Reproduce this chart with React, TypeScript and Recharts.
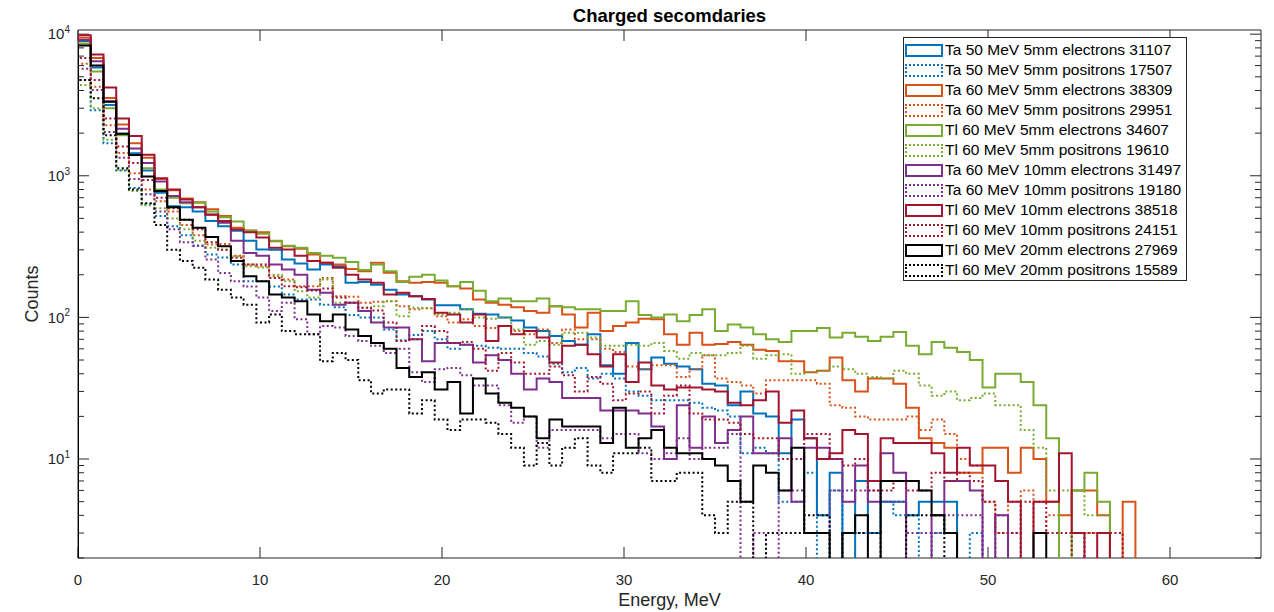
import React from 'react';
import { ComposedChart, Line, XAxis, YAxis, ReferenceLine, ReferenceArea, Legend } from 'recharts';

// Histogram counts per 0.7 MeV bin (bin i covers [0.7*i, 0.7*(i+1)] MeV); 0 = empty bin
const BIN_WIDTH = 0.7;

const ta50_5mm_el = [8930, 5810, 3160, 1980, 1440, 1090, 760, 610, 600, 560, 480, 440, 409, 348, 301, 300, 256, 240, 218, 236, 230, 176, 178, 170, 157, 145, 141, 134, 122, 122, 114, 106, 105, 100, 95, 85, 80, 74, 68, 64, 76, 46, 40, 66, 43, 52, 47, 45, 43, 34, 33, 24, 30, 21, 20, 11, 19, 14, 4, 8, 0, 7, 3, 5, 5, 4, 5, 5, 5];
const ta50_5mm_pos = [4740, 2900, 1700, 1090, 820, 630, 520, 440, 380, 320, 278, 265, 236, 180, 180, 165, 145, 134, 134, 123, 118, 104, 100, 100, 82, 69, 75, 80, 70, 60, 64, 63, 61, 60, 60, 56, 53, 47, 41, 44, 37, 40, 37, 30, 28, 26, 26, 26, 25, 23, 22, 20, 11, 12, 11, 5, 5, 8, 0, 6, 3, 3, 3, 5, 4, 4, 0, 3, 3, 0, 3];
const ta60_5mm_el = [9420, 6790, 3540, 2300, 1700, 1340, 950, 790, 690, 650, 580, 520, 430, 410, 400, 345, 318, 305, 278, 243, 236, 220, 212, 243, 207, 180, 176, 178, 176, 166, 160, 134, 127, 123, 118, 111, 108, 120, 105, 85, 108, 80, 87, 92, 98, 97, 76, 64, 78, 64, 65, 67, 64, 59, 58, 49, 49, 41, 42, 52, 36, 30, 37, 37, 34, 23, 14, 13, 12, 8, 8, 12, 12, 8, 12, 10, 5, 4, 6, 6, 4, 0, 5];
const ta60_5mm_pos = [6170, 4250, 2270, 1450, 1040, 800, 660, 560, 450, 380, 327, 330, 272, 236, 230, 195, 185, 166, 166, 190, 141, 140, 127, 129, 130, 120, 114, 116, 102, 92, 97, 87, 84, 87, 80, 76, 82, 66, 82, 70, 70, 60, 57, 45, 43, 46, 46, 38, 43, 54, 37, 35, 33, 29, 36, 36, 36, 36, 34, 24, 23, 20, 19, 19, 19, 20, 16, 19, 15, 10, 9, 5, 3, 5, 6, 3, 4, 0, 3, 3, 3];
const tl60_5mm_el = [8600, 5440, 3000, 1930, 1400, 1130, 800, 700, 640, 646, 560, 510, 475, 409, 390, 348, 321, 310, 285, 273, 264, 246, 216, 236, 212, 178, 194, 200, 182, 166, 178, 154, 130, 136, 130, 130, 136, 120, 118, 114, 114, 111, 111, 130, 104, 100, 105, 94, 104, 114, 80, 89, 85, 76, 70, 67, 80, 80, 84, 72, 78, 73, 68, 73, 79, 63, 55, 67, 61, 57, 50, 32, 40, 40, 35, 24, 14, 0, 6, 8, 5];
const tl60_5mm_pos = [4370, 3000, 1800, 1100, 780, 620, 590, 500, 420, 348, 310, 300, 270, 230, 225, 200, 180, 153, 138, 185, 127, 127, 117, 120, 130, 102, 117, 116, 105, 108, 114, 100, 98, 100, 82, 64, 68, 64, 78, 78, 72, 63, 63, 64, 63, 66, 58, 51, 56, 54, 54, 56, 63, 51, 54, 55, 40, 41, 42, 45, 43, 40, 38, 37, 42, 40, 33, 28, 30, 26, 27, 29, 24, 24, 16, 12, 6, 6, 6, 4, 4];
const ta60_10mm_el = [9080, 6430, 3360, 2150, 1560, 1230, 910, 720, 650, 600, 533, 465, 348, 285, 272, 236, 218, 200, 157, 149, 123, 127, 111, 92, 85, 85, 70, 49, 66, 66, 64, 48, 54, 50, 40, 31, 37, 35, 27, 27, 27, 22, 22, 22, 21, 17, 10, 24, 12, 20, 13, 16, 20, 11, 11, 14, 5, 12, 12, 10, 5, 9, 5, 11, 8, 0, 0, 4, 7, 7, 6, 0, 4];
const ta60_10mm_pos = [5700, 4030, 2040, 1340, 950, 740, 560, 420, 340, 320, 256, 206, 180, 165, 138, 111, 127, 97, 76, 87, 85, 74, 68, 63, 56, 60, 41, 35, 43, 44, 39, 33, 33, 24, 18, 20, 12, 16, 16, 16, 16, 14, 15, 15, 11, 10, 11, 14, 10, 12, 12, 15, 0, 3, 0, 6, 6, 3, 3, 6, 6, 6, 6, 5, 5, 3, 3, 3, 4, 4, 4, 0, 4, 3];
const tl60_10mm_el = [9840, 7190, 4200, 2540, 1910, 1410, 960, 800, 680, 600, 530, 480, 417, 400, 366, 310, 301, 273, 250, 243, 224, 200, 185, 176, 145, 149, 141, 135, 108, 105, 92, 105, 68, 87, 76, 80, 72, 48, 63, 64, 55, 45, 55, 35, 48, 33, 31, 32, 32, 31, 30, 25, 24, 26, 30, 18, 22, 14, 10, 11, 16, 15, 7, 14, 13, 13, 13, 11, 8, 12, 9, 9, 7, 5, 0, 5, 5, 11, 3, 0, 3];
const tl60_10mm_pos = [6790, 4740, 2540, 1610, 1230, 935, 700, 590, 490, 420, 340, 300, 264, 236, 236, 190, 166, 163, 155, 160, 138, 127, 117, 112, 92, 68, 70, 87, 80, 66, 67, 60, 42, 56, 48, 40, 40, 45, 39, 30, 38, 34, 26, 29, 30, 21, 28, 33, 21, 19, 19, 18, 15, 14, 14, 10, 10, 15, 15, 10, 9, 10, 6, 6, 7, 6, 6, 8, 7, 8, 7, 5, 3, 3, 5, 5, 3, 3, 0, 3, 3, 3];
const tl60_20mm_el = [8330, 6010, 3330, 1980, 1400, 990, 780, 600, 490, 430, 370, 318, 250, 195, 180, 145, 138, 130, 105, 94, 105, 82, 74, 66, 60, 44, 38, 41, 31, 35, 21, 37, 29, 25, 23, 20, 14, 19, 17, 17, 17, 13, 23, 12, 14, 16, 12, 11, 11, 10, 9, 7, 5, 9, 8, 6, 12, 3, 3, 0, 3, 4, 0, 7, 7, 7, 6, 4, 3, 0, 0, 0, 0, 0, 0, 3];
const tl60_20mm_pos = [4740, 3530, 1930, 1130, 800, 640, 450, 300, 250, 224, 185, 157, 138, 123, 92, 105, 80, 76, 76, 49, 56, 50, 36, 29, 31, 31, 21, 26, 19, 16, 19, 19, 18, 15, 12, 9, 13, 9, 12, 14, 9, 8, 11, 11, 12, 7, 7, 8, 8, 4, 3, 5, 5, 0, 3, 3, 3, 4, 4, 0, 3, 3, 3, 0, 0, 4, 4, 4];

const SERIES_NAMES = [
  'Ta 50 MeV 5mm electrons 31107',
  'Ta 50 MeV 5mm positrons 17507',
  'Ta 60 MeV 5mm electrons 38309',
  'Ta 60 MeV 5mm positrons 29951',
  'Tl 60 MeV 5mm electrons 34607',
  'Tl 60 MeV 5mm positrons 19610',
  'Ta 60 MeV 10mm electrons 31497',
  'Ta 60 MeV 10mm positrons 19180',
  'Tl 60 MeV 10mm electrons 38518',
  'Tl 60 MeV 10mm positrons 24151',
  'Tl 60 MeV 20mm electrons 27969',
  'Tl 60 MeV 20mm positrons 15589',
];
const SERIES_COUNTS = [
  ta50_5mm_el, ta50_5mm_pos, ta60_5mm_el, ta60_5mm_pos, tl60_5mm_el, tl60_5mm_pos,
  ta60_10mm_el, ta60_10mm_pos, tl60_10mm_el, tl60_10mm_pos, tl60_20mm_el, tl60_20mm_pos,
];
const SERIES_COLORS = ['#0072BD', '#0072BD', '#D95319', '#D95319', '#77AC30', '#77AC30', '#7E2F8E', '#7E2F8E', '#A2142F', '#A2142F', '#000000', '#000000'];
const SERIES_DOTTED = [false, true, false, true, false, true, false, true, false, true, false, true];

const X_TICKS = [0, 10, 20, 30, 40, 50, 60];
const Y_TICKS = [10, 100, 1000, 10000];
const Y_MINOR = [2, 3, 4, 5, 6, 7, 8, 9, 20, 30, 40, 50, 60, 70, 80, 90, 200, 300, 400, 500, 600, 700, 800, 900, 2000, 3000, 4000, 5000, 6000, 7000, 8000, 9000];

// layout
const W = 1266;
const H = 604;
const X_MIN = 0;
const X_MAX = 65;
const Y_MIN = 2;
const Y_MAX = 10700;
const PLOT_W = 1183;
const PLOT_H = 528;
const PX_PER_MEV = PLOT_W / (X_MAX - X_MIN);
const PX_PER_DEC = PLOT_H / Math.log10(Y_MAX / Y_MIN);
const FLOOR = 1; // below the axis bottom: empty bins drop out of view
const FONT = '"Liberation Sans", Arial, Helvetica, sans-serif';
const AXIS_COLOR = '#262626';

function stairs(counts: number[]) {
  const pts: { x: number; y: number }[] = [{ x: 0, y: FLOOR }];
  counts.forEach((c, i) => pts.push({ x: +(i * BIN_WIDTH).toFixed(3), y: c > 0 ? c : FLOOR }));
  const end = +(counts.length * BIN_WIDTH).toFixed(3);
  const last = counts[counts.length - 1];
  pts.push({ x: end, y: last > 0 ? last : FLOOR });
  pts.push({ x: end, y: FLOOR });
  return pts;
}

const STAIRS = SERIES_COUNTS.map(stairs);

const MAJOR_PX = 11;
const MINOR_PX = 6;
const xTickLen = (px: number) => px / PX_PER_MEV;
const yFactor = (px: number) => Math.pow(10, px / PX_PER_DEC);

const YTick = (props: any) => {
  const { x, y, payload } = props;
  const exp = Math.round(Math.log10(payload.value));
  return (
    <text x={x} y={y} textAnchor="end" fill={AXIS_COLOR} fontSize={15} fontFamily={FONT}>
      <tspan dy="0.35em">10</tspan>
      <tspan dy="-0.65em" fontSize={10}>{exp}</tspan>
    </text>
  );
};

const LegendBox = () => (
  <div
    style={{
      width: 284,
      height: 244,
      boxSizing: 'border-box',
      border: '1px solid #262626',
      background: '#ffffff',
      paddingTop: 2,
      fontFamily: FONT,
    }}
  >
    {SERIES_NAMES.map((name, i) => (
      <div key={name} style={{ display: 'flex', alignItems: 'center', height: 20 }}>
        <div
          style={{
            marginLeft: 1,
            width: 38,
            height: 13,
            boxSizing: 'border-box',
            border: `2px ${SERIES_DOTTED[i] ? 'dotted' : 'solid'} ${SERIES_COLORS[i]}`,
          }}
        />
        <span style={{ marginLeft: 2, fontSize: 15.5, color: '#000', whiteSpace: 'nowrap', lineHeight: '20px' }}>{name}</span>
      </div>
    ))}
  </div>
);

export default function App() {
  return (
    <div style={{ position: 'relative', width: W, height: H, fontFamily: FONT }}>
      <ComposedChart width={W} height={H} margin={{ top: 22, right: 13, bottom: 24, left: 10 }}>
        <XAxis
          type="number"
          dataKey="x"
          domain={[X_MIN, X_MAX]}
          ticks={X_TICKS}
          allowDataOverflow
          axisLine={false}
          tickLine={false}
          tickSize={6}
          tickMargin={10}
          height={30}
          tick={{ fill: AXIS_COLOR, fontSize: 15, fontFamily: FONT }}
        />
        <YAxis
          type="number"
          scale="log"
          domain={[Y_MIN, Y_MAX]}
          ticks={Y_TICKS}
          allowDataOverflow
          axisLine={false}
          tickLine={false}
          tickSize={6}
          tickMargin={2}
          width={60}
          tick={<YTick />}
        />
        <ReferenceArea x1={X_MIN} x2={X_MAX} y1={Y_MIN} y2={Y_MAX} fill="none" stroke={AXIS_COLOR} strokeWidth={1} />
        {X_TICKS.map((t) => (
          <ReferenceLine key={'xb' + t} segment={[{ x: t, y: Y_MIN }, { x: t, y: Y_MIN * yFactor(MAJOR_PX) }]} stroke={AXIS_COLOR} />
        ))}
        {X_TICKS.map((t) => (
          <ReferenceLine key={'xt' + t} segment={[{ x: t, y: Y_MAX }, { x: t, y: Y_MAX / yFactor(MAJOR_PX) }]} stroke={AXIS_COLOR} />
        ))}
        {Y_TICKS.map((t) => (
          <ReferenceLine key={'yl' + t} segment={[{ x: X_MIN, y: t }, { x: X_MIN + xTickLen(MAJOR_PX), y: t }]} stroke={AXIS_COLOR} />
        ))}
        {Y_TICKS.map((t) => (
          <ReferenceLine key={'yr' + t} segment={[{ x: X_MAX, y: t }, { x: X_MAX - xTickLen(MAJOR_PX), y: t }]} stroke={AXIS_COLOR} />
        ))}
        {Y_MINOR.map((t) => (
          <ReferenceLine key={'ml' + t} segment={[{ x: X_MIN, y: t }, { x: X_MIN + xTickLen(MINOR_PX), y: t }]} stroke={AXIS_COLOR} />
        ))}
        {Y_MINOR.map((t) => (
          <ReferenceLine key={'mr' + t} segment={[{ x: X_MAX, y: t }, { x: X_MAX - xTickLen(MINOR_PX), y: t }]} stroke={AXIS_COLOR} />
        ))}
        {STAIRS.map((pts, i) => (
          <Line
            key={SERIES_NAMES[i]}
            name={SERIES_NAMES[i]}
            data={pts}
            dataKey="y"
            type="stepAfter"
            stroke={SERIES_COLORS[i]}
            strokeWidth={2}
            strokeDasharray={SERIES_DOTTED[i] ? '2 2.5' : undefined}
            dot={false}
            activeDot={false}
            isAnimationActive={false}
          />
        ))}
        <Legend
          layout="vertical"
          align="center"
          verticalAlign="middle"
          content={() => <LegendBox />}
          wrapperStyle={{ position: 'absolute', left: 895, top: 29, width: 284, height: 244, margin: 0 }}
        />
      </ComposedChart>
      <div
        style={{
          position: 'absolute',
          left: 70,
          width: 1183,
          top: -3,
          textAlign: 'center',
          fontSize: 18.5,
          fontWeight: 'bold',
          lineHeight: '22px',
          color: '#000',
        }}
      >
        Charged secomdaries
      </div>
      <div
        style={{
          position: 'absolute',
          left: 70,
          width: 1183,
          top: 581,
          textAlign: 'center',
          fontSize: 18,
          lineHeight: '22px',
          color: AXIS_COLOR,
        }}
      >
        Energy, MeV
      </div>
      <div
        style={{
          position: 'absolute',
          left: 24,
          top: 286,
          transform: 'translate(-50%, -50%) rotate(-90deg)',
          fontSize: 18,
          lineHeight: '22px',
          color: AXIS_COLOR,
          whiteSpace: 'nowrap',
        }}
      >
        Counts
      </div>
    </div>
  );
}
